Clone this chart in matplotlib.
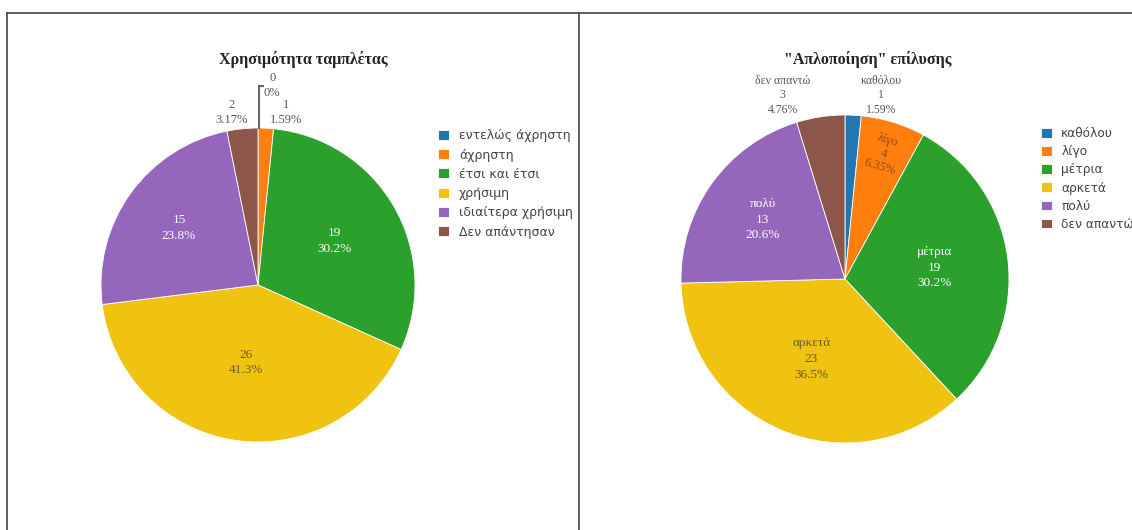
import matplotlib.pyplot as plt
from matplotlib.lines import Line2D
import numpy as np

# -------------------------------
# Datos de las dos encuestas
# -------------------------------
cat_tableta = ["εντελώς άχρηστη", "άχρηστη", "έτσι και έτσι", "χρήσιμη",
               "ιδιαίτερα χρήσιμη", "Δεν απάντησαν"]
val_tableta = [0, 1, 19, 26, 15, 2]

cat_epilysi = ["καθόλου", "λίγο", "μέτρια", "αρκετά", "πολύ", "δεν απαντώ"]
val_epilysi = [1, 4, 19, 23, 13, 3]

colores = ["#1f77b4", "#ff7f0e", "#2ca02c", "#efc30f", "#9467bd", "#8c564b"]

W, H = 1132, 530
SERIF = "Liberation Serif"
GRIS = "#555555"

fig = plt.figure(figsize=(W / 100, H / 100), dpi=100)
fig.patch.set_facecolor("white")


def caja(cx, cy, r):
    # ejes cuadrados centrados en (cx, cy) en pixeles, radio r
    return fig.add_axes([(cx - r) / W, 1 - (cy + r) / H, 2 * r / W, 2 * r / H])


def pct(v, total):
    # tres cifras significativas: 30.2%, 1.59%, 0%
    return f"{100.0 * v / total:.3g}%"


def tarta(ax, valores):
    wedges, _ = ax.pie(valores, colors=colores, startangle=90, counterclock=False,
                       radius=1.0, wedgeprops=dict(edgecolor="white", linewidth=0.6))
    ax.set_xlim(-1, 1)
    ax.set_ylim(-1, 1)
    ax.set_aspect("equal")
    ax.axis("off")
    return wedges


def etiqueta_interior(ax, w, texto, rr, color, rot=0, size=9.5, ls=1.4):
    ang = np.radians((w.theta1 + w.theta2) / 2)
    ax.text(rr * np.cos(ang), rr * np.sin(ang), texto, ha="center", va="center",
            color=color, fontsize=size, family=SERIF, linespacing=ls, rotation=rot)


def etiqueta_exterior(ax, x, y, texto, size=9, ls=1.3):
    ax.text(x, y, texto, ha="center", va="center", color=GRIS, fontsize=size,
            family=SERIF, linespacing=ls)


# -------------------------------
# Panel izquierdo
# -------------------------------
ax1 = caja(258, 285, 157)
w1 = tarta(ax1, val_tableta)
tot1 = sum(val_tableta)
etiqueta_interior(ax1, w1[2], f"{val_tableta[2]}\n{pct(val_tableta[2], tot1)}", 0.56, "white")
etiqueta_interior(ax1, w1[3], f"{val_tableta[3]}\n{pct(val_tableta[3], tot1)}", 0.50, "#6b5a30")
etiqueta_interior(ax1, w1[4], f"{val_tableta[4]}\n{pct(val_tableta[4], tot1)}", 0.62, "white")

etiqueta_exterior(ax1, 0.18, 1.10, f"{val_tableta[1]}\n{pct(val_tableta[1], tot1)}")
etiqueta_exterior(ax1, -0.17, 1.10, f"{val_tableta[5]}\n{pct(val_tableta[5], tot1)}")
etiqueta_exterior(ax1, 0.09, 1.27, f"{val_tableta[0]}\n{pct(val_tableta[0], tot1)}")
ax1.plot([0.005, 0.005, 0.03], [1.0, 1.27, 1.27], color="#666666", lw=1.5,
         clip_on=False, solid_joinstyle="miter")

fig.text(303 / W, 1 - 60 / H, "Χρησιμότητα ταμπλέτας", ha="center", va="center",
         fontsize=11.5, fontweight="bold", family=SERIF, color="#222222")

ax1.legend(w1, cat_tableta, loc="upper left", bbox_to_anchor=(432 / W, 1 - 123 / H),
           bbox_transform=fig.transFigure, frameon=False, borderpad=0,
           handlelength=0.85, handleheight=0.85, handletextpad=0.8, labelspacing=0.5,
           prop=dict(family="DejaVu Sans", size=9), labelcolor="#444444")

# -------------------------------
# Panel derecho
# -------------------------------
ax2 = caja(845, 279, 164)
w2 = tarta(ax2, val_epilysi)
tot2 = sum(val_epilysi)
etiqueta_interior(ax2, w2[2], f"{cat_epilysi[2]}\n{val_epilysi[2]}\n{pct(val_epilysi[2], tot2)}", 0.55, "white")
etiqueta_interior(ax2, w2[3], f"{cat_epilysi[3]}\n{val_epilysi[3]}\n{pct(val_epilysi[3], tot2)}", 0.53, "#6b5a30")
etiqueta_interior(ax2, w2[4], f"{cat_epilysi[4]}\n{val_epilysi[4]}\n{pct(val_epilysi[4], tot2)}", 0.62, "white")
etiqueta_interior(ax2, w2[1], f"{cat_epilysi[1]}\n{val_epilysi[1]}\n{pct(val_epilysi[1], tot2)}", 0.80,
                  "#8a4a12", rot=-17, size=9, ls=1.25)

etiqueta_exterior(ax2, 0.22, 1.12, f"{cat_epilysi[0]}\n{val_epilysi[0]}\n{pct(val_epilysi[0], tot2)}", size=8.5)
etiqueta_exterior(ax2, -0.38, 1.12, f"{cat_epilysi[5]}\n{val_epilysi[5]}\n{pct(val_epilysi[5], tot2)}", size=8.5)

fig.text(868 / W, 1 - 59 / H, "\"Απλοποίηση\" επίλυσης", ha="center", va="center",
         fontsize=11.5, fontweight="bold", family=SERIF, color="#222222")

ax2.legend(w2, cat_epilysi, loc="upper left", bbox_to_anchor=(1035 / W, 1 - 121 / H),
           bbox_transform=fig.transFigure, frameon=False, borderpad=0,
           handlelength=0.85, handleheight=0.85, handletextpad=0.8, labelspacing=0.42,
           prop=dict(family="DejaVu Sans", size=8.8), labelcolor="#444444")

# -------------------------------
# Marco de los paneles
# -------------------------------
for xs, ys in [([7, W], [13, 13]), ([7, 7], [13, H]), ([579, 579], [13, H])]:
    fig.add_artist(Line2D([x / W for x in xs], [1 - y / H for y in ys],
                          transform=fig.transFigure, color="#444444", lw=1.2))

fig.savefig("out.png", dpi=100, facecolor="white")
